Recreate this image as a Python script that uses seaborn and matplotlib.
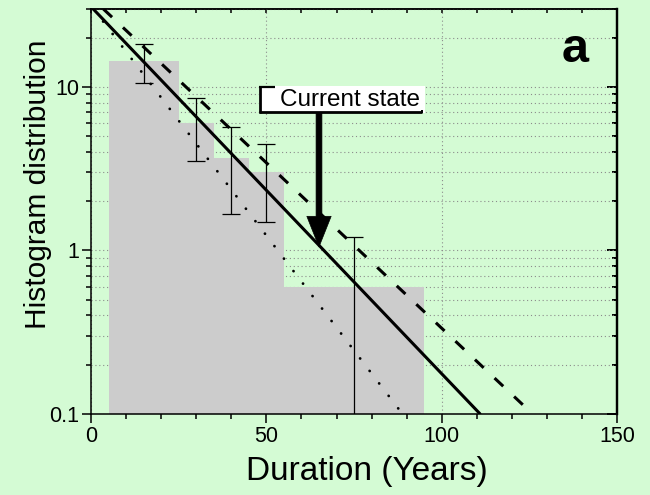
import matplotlib
matplotlib.use("Agg")
import matplotlib.pyplot as plt
import matplotlib.ticker as mticker
from matplotlib.patches import Rectangle
from matplotlib.lines import Line2D
import seaborn as sns
import numpy as np

# ---- data ----
bin_edges = [5, 25, 35, 45, 55, 95]
bin_centers = [15, 30, 40, 50, 75]
bar_heights = [14.4, 6.0, 3.67, 3.0, 0.6]
err_x = [15, 30, 40, 50, 75]
err_y = [14.4, 6.0, 3.67, 3.0, 0.6]
err_size = [3.8, 2.5, 2.0, 1.5, 0.6]

solid_x = [0.6, 110.9]
solid_y = [30.0, 0.1]
dashed_x = [3.5, 124.0]
dashed_y = [30.0, 0.109]
dotted_x = [0.7, 88.3]
dotted_y = [30.0, 0.103]

x_ticks = [0, 50, 100, 150]
y_ticks = [0.1, 1, 10]
y_tick_labels = ["0.1", "1", "10"]

arrow_x = 65
arrow_tip_y = 1.05
arrow_tail_y = 6.92

bg = "#d4fbd4"

sns.set_style("ticks")
plt.rcParams["font.family"] = ["Liberation Sans", "DejaVu Sans"]
plt.rcParams["text.color"] = "black"
plt.rcParams["axes.labelcolor"] = "black"
plt.rcParams["xtick.color"] = "black"
plt.rcParams["ytick.color"] = "black"

fig = plt.figure(figsize=(6.5, 4.95), dpi=100, facecolor=bg)
ax = fig.add_axes([0.1402, 0.1642, 0.8090, 0.8176])
ax.set_facecolor(bg)
ax.set_yscale("log")

# histogram bars
sns.histplot(x=bin_centers, weights=bar_heights, bins=bin_edges, ax=ax,
             color="#cccccc", alpha=1, edgecolor="none", linewidth=0,
             stat="count", zorder=1)

# error bars
ax.errorbar(err_x, err_y, yerr=[err_size, err_size], fmt="none",
            ecolor="black", elinewidth=0.9, capsize=6.5, capthick=0.9,
            zorder=3)

# fit lines
sns.lineplot(x=solid_x, y=solid_y, ax=ax, color="black", linewidth=2.2,
             zorder=4)
sns.lineplot(x=dashed_x, y=dashed_y, ax=ax, color="black", linewidth=2.2,
             linestyle=(0, (3.9, 4.9)), zorder=4)
sns.lineplot(x=dotted_x, y=dotted_y, ax=ax, color="black", linewidth=2.0,
             linestyle=(0, (0.05, 5.6)), dash_capstyle="round", zorder=4)

ax.set_xlim(0, 150)
ax.set_ylim(0.1, 30)

# grid
ax.set_axisbelow(True)
ax.xaxis.set_major_locator(mticker.FixedLocator(x_ticks))
ax.xaxis.set_minor_locator(mticker.MultipleLocator(10))
ax.yaxis.set_major_locator(mticker.FixedLocator(y_ticks))
ax.yaxis.set_major_formatter(mticker.FixedFormatter(y_tick_labels))
ax.yaxis.set_minor_locator(mticker.LogLocator(base=10, subs=np.arange(2, 10)))
ax.yaxis.set_minor_formatter(mticker.NullFormatter())
ax.grid(True, axis="x", which="major", color="#8c8c8c", linestyle=(0, (1, 2.5)), linewidth=0.8)
ax.grid(True, axis="y", which="both", color="#8c8c8c", linestyle=(0, (1, 2.5)), linewidth=0.8)

for s in ax.spines.values():
    s.set_color("black")
    s.set_linewidth(1.1)
ax.spines["right"].set_linewidth(1.6)

ax.tick_params(axis="both", which="both", direction="out", color="black",
               labelcolor="black", labelsize=15.5, pad=2, top=False, right=False)
ax.tick_params(axis="both", which="major", length=6.5, width=1.1)
ax.tick_params(axis="both", which="minor", length=3.3, width=1.1)

# mirrored axes with inward ticks
secx = ax.secondary_xaxis("top")
secx.xaxis.set_major_locator(mticker.FixedLocator(x_ticks))
secx.xaxis.set_minor_locator(mticker.MultipleLocator(10))
secx.tick_params(axis="x", which="both", direction="in", labeltop=False,
                 length=3, width=1.1, color="black")
secx.spines["top"].set_linewidth(1.1)
secx.spines["top"].set_color("black")

secy = ax.secondary_yaxis("right")
secy.yaxis.set_major_locator(mticker.FixedLocator(y_ticks))
secy.yaxis.set_minor_locator(mticker.LogLocator(base=10, subs=np.arange(2, 10)))
secy.yaxis.set_major_formatter(mticker.NullFormatter())
secy.yaxis.set_minor_formatter(mticker.NullFormatter())
secy.tick_params(axis="y", which="major", direction="in", length=7, width=1.4, color="black")
secy.tick_params(axis="y", which="minor", direction="in", length=3.6, width=1.4, color="black")
secy.spines["right"].set_linewidth(1.6)
secy.spines["right"].set_color("black")

# labels
ax.set_xlabel("Duration (Years)", fontsize=24, color="black")
ax.set_ylabel("Histogram distribution", fontsize=21.5, color="black")
ax.xaxis.set_label_coords(0.524, -0.105)
ax.yaxis.set_label_coords(-0.075, 0.568)

# panel letter
ax.text(0.921, 0.869, "a", transform=ax.transAxes, ha="center",
        va="baseline", fontsize=35, fontweight="bold", color="black")

# "Current state" box
x0, x1, y0, y1 = 0.3193, 0.6349, 0.743, 0.8097
ax.add_patch(Rectangle((x0, y0), x1 - x0, y1 - y0, transform=ax.transAxes,
                       facecolor="white", edgecolor="none", zorder=6))
for xs, ys, lw in [([x0 + 0.002, x0 + 0.002], [y0, y1], 2.0),
                   ([x0, 0.3497], [y1 - 0.002, y1 - 0.002], 1.6),
                   ([x0, 0.6292], [y0 + 0.002, y0 + 0.002], 2.0),
                   ([0.6292, 0.6292], [y0, 0.7504], 1.4)]:
    ax.add_line(Line2D(xs, ys, transform=ax.transAxes, color="black",
                       linewidth=lw, zorder=7, solid_capstyle="butt"))
ax.text(0.4923, 0.7764, "Current state", transform=ax.transAxes,
        ha="center", va="center", fontsize=17.5, zorder=8, color="black")

ax.annotate("", xy=(arrow_x, arrow_tip_y), xytext=(arrow_x, arrow_tail_y),
            arrowprops=dict(arrowstyle="simple,head_length=2.2,head_width=1.75,tail_width=0.42",
                            fc="black", ec="black", lw=0.5, shrinkA=0, shrinkB=0,
                            mutation_scale=10), zorder=5)

fig.savefig("out.png", dpi=100, facecolor=bg)
